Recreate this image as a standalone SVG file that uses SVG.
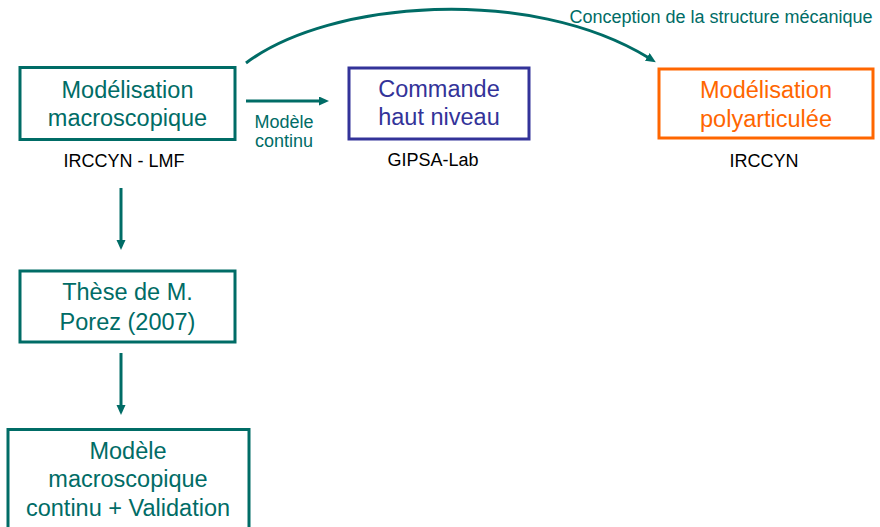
<svg xmlns="http://www.w3.org/2000/svg" width="880" height="527" viewBox="0 0 880 527">
<style>
.box{fill:none;stroke-width:3}
.t{font-family:"Liberation Sans",Arial,sans-serif;text-anchor:middle}
.big{font-size:23.5px}
.sm{font-size:18px}
.teal{fill:#006c66}
.blue{fill:#333399}
.orange{fill:#ff6600}
.blk{fill:#000}
.conn{fill:none;stroke:#006c66;stroke-width:3}
</style>
<defs>
<marker id="ah" markerUnits="userSpaceOnUse" markerWidth="12" markerHeight="10" refX="2" refY="4.5" orient="auto">
<path d="M0,0 L10,4.5 L0,9 z" fill="#006c66"/>
</marker>
</defs>
<rect width="880" height="527" fill="#fff"/>
<g id="connectors">
<path class="conn" d="M246,63 C330,0 530,-15 649,58" marker-end="url(#ah)"/>
<path class="conn" d="M246,101 L321,101" marker-end="url(#ah)"/>
<path class="conn" d="M121,188 L121,242" marker-end="url(#ah)"/>
<path class="conn" d="M121,353 L121,407" marker-end="url(#ah)"/>
<text class="t sm teal" x="284" y="128">Modèle</text>
<text class="t sm teal" x="284" y="147">continu</text>
<text class="t sm teal" x="721" y="23">Conception de la structure mécanique</text>
</g>
<g id="n-macro">
<rect class="box" x="20" y="67.5" width="215" height="72" stroke="#006c66"/>
<text class="t big teal" x="127.5" y="98">Modélisation</text>
<text class="t big teal" x="127.5" y="126">macroscopique</text>
<text class="t sm blk" x="124" y="167">IRCCYN - LMF</text>
</g>
<g id="n-commande">
<rect class="box" x="349" y="68" width="180" height="71" stroke="#333399"/>
<text class="t big blue" x="439" y="97">Commande</text>
<text class="t big blue" x="439" y="125">haut niveau</text>
<text class="t sm blk" x="433" y="166">GIPSA-Lab</text>
</g>
<g id="n-poly">
<rect class="box" x="659" y="69" width="214" height="69" stroke="#ff6600"/>
<text class="t big orange" x="766" y="98">Modélisation</text>
<text class="t big orange" x="766" y="127">polyarticulée</text>
<text class="t sm blk" x="764" y="167">IRCCYN</text>
</g>
<g id="n-these">
<rect class="box" x="20" y="271" width="215" height="71" stroke="#006c66"/>
<text class="t big teal" x="127.5" y="300">Thèse de M.</text>
<text class="t big teal" x="127.5" y="330">Porez (2007)</text>
</g>
<g id="n-modele">
<rect class="box" x="8" y="429.5" width="241" height="110" stroke="#006c66"/>
<text class="t big teal" x="128" y="459">Modèle</text>
<text class="t big teal" x="128" y="487">macroscopique</text>
<text class="t big teal" x="128" y="516">continu + Validation</text>
</g>
</svg>
